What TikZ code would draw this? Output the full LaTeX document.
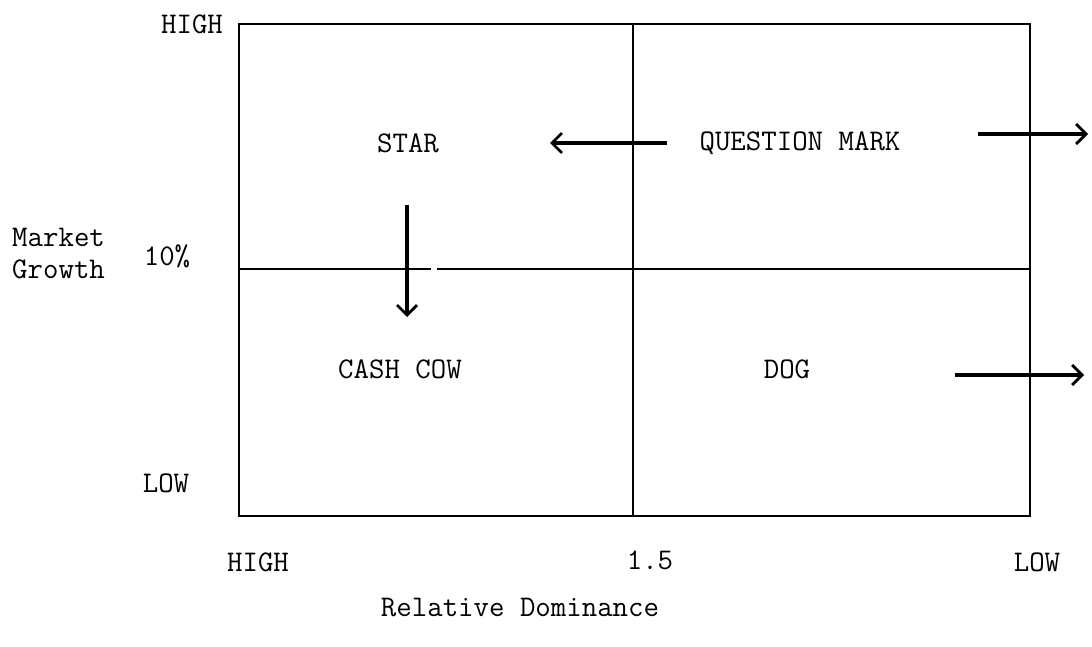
\documentclass[tikz,border=0pt]{standalone}
\usetikzlibrary{arrows.meta}
\begin{document}
\begin{tikzpicture}[x=1pt,y=-1pt,
  lbl/.style={font=\fontsize{30}{32}\selectfont\ttfamily, inner sep=0pt, anchor=center},
  frame/.style={line width=2.2pt},
  movearrow/.style={line width=3.4pt, -{Straight Barb[length=10pt,width=20pt,line width=2.8pt]}}]
\useasboundingbox (0,0) rectangle (1092,647);
% frame
\draw[frame] (239,24) rectangle (1030,516);
\draw[frame] (633,24) -- (633,516);
\draw[frame] (239,269) -- (431,269);
\draw[frame] (437,269) -- (1030,269);
% axis labels
\node[lbl] (yhigh) at (192,24) {HIGH};
\node[lbl] (ten) at (167,256) {10\%};
\node[lbl] (ylow) at (166,483) {LOW};
\node[lbl, align=left, anchor=west] (mg) at (12,254) {Market\\Growth};
\node[lbl] (xhigh) at (258,562) {HIGH};
\node[lbl] (mid) at (650,560) {1.5};
\node[lbl] (xlow) at (1037,562) {LOW};
\node[lbl] (rd) at (520,608) {Relative Dominance};
% quadrants
\node[lbl] (star) at (408,143) {STAR};
\node[lbl] (qm) at (800,143) {QUESTION MARK};
\node[lbl] (cow) at (400,369) {CASH COW};
\node[lbl] (dog) at (787,369) {DOG};
% arrow ends
\coordinate (qmL) at (667,143);
\coordinate (starR) at (550,143);
\coordinate (qmR) at (978,134);
\coordinate (qmOut) at (1088,134);
\coordinate (starB) at (407,205);
\coordinate (cowT) at (407,317);
\coordinate (dogR) at (955,375);
\coordinate (dogOut) at (1084,375);
\draw[movearrow] (qmL) -- (starR);
\draw[movearrow] (qmR) -- (qmOut);
\draw[movearrow] (starB) -- (cowT);
\draw[movearrow] (dogR) -- (dogOut);
\end{tikzpicture}
\end{document}
